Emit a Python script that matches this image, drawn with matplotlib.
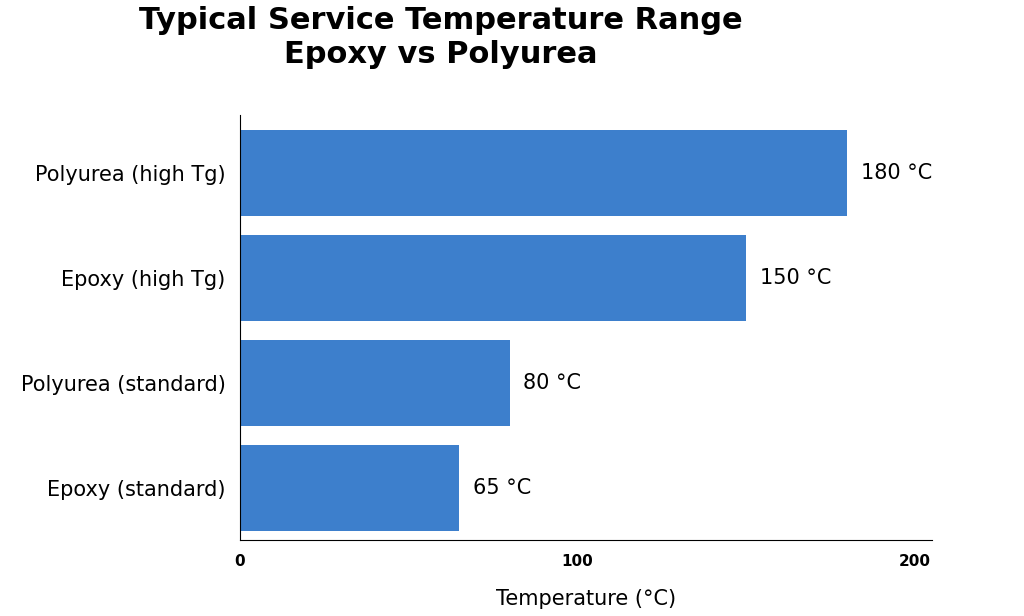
import matplotlib.pyplot as plt
import numpy as np

categories = ["Epoxy (standard)", "Polyurea (standard)", "Epoxy (high Tg)", "Polyurea (high Tg)"]
temps = [65, 80, 150, 180]
xticks = [0, 100, 200]

fig = plt.figure(figsize=(10.24, 6.16), dpi=100)
ax = fig.add_axes([0.234, 0.123, 0.676, 0.69])

y = np.arange(len(categories))
bars = ax.barh(y, temps, height=0.82, color="#3d7fcc")
for b, v in zip(bars, temps):
    ax.text(v + 4, b.get_y() + b.get_height() / 2, f"{v} \u00b0C",
            va="center", ha="left", fontsize=15)

ax.set_yticks(y)
ax.set_yticklabels(categories, fontsize=15)
ax.set_xticks(xticks)
ax.set_xticklabels([str(t) for t in xticks], fontsize=11, fontweight="bold")
ax.set_xlim(0, 205)
ax.set_ylim(-0.5, 3.55)
ax.tick_params(length=0, pad=10)
ax.spines["top"].set_visible(False)
ax.spines["right"].set_visible(False)
ax.set_xlabel("Temperature (\u00b0C)", fontsize=15, labelpad=14)

fig.suptitle("Typical Service Temperature Range\nEpoxy vs Polyurea",
             fontsize=22, fontweight="bold", x=0.43, y=0.99)

fig.savefig("out.png", dpi=100)
